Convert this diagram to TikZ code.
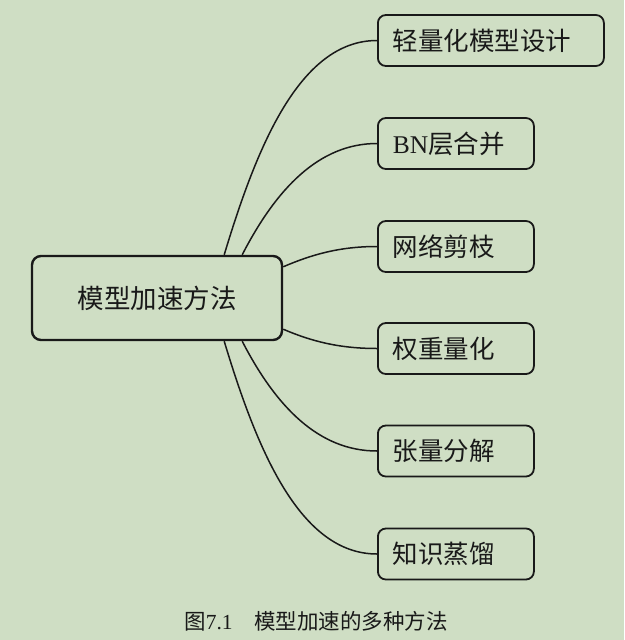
\documentclass[tikz,border=0pt]{standalone}
\usepackage{fontspec}
\setmainfont{Liberation Serif}
\newfontfamily\cjk{Noto Sans CJK SC}
\definecolor{bg}{RGB}{207,222,196}
\definecolor{ink}{RGB}{25,25,25}
\begin{document}
\begin{tikzpicture}[x=1pt,y=-1pt,
  leaf/.style={draw=ink, line width=1.8pt, rounded corners=8pt, anchor=west,
    minimum height=51pt, inner xsep=15pt, inner ysep=0pt, align=left,
    text=ink, font=\fontsize{25.5}{27}\selectfont\cjk},
  root/.style={draw=ink, line width=2.4pt, rounded corners=9pt,
    minimum width=250pt, minimum height=84pt, text=ink,
    font=\fontsize{26.5}{28}\selectfont\cjk},
  link/.style={draw=ink, line width=1.5pt}]
\fill[bg] (0,0) rectangle (624,640);
\useasboundingbox (0,0) rectangle (624,640);

\node[root] (c) at (157,298) {模型加速方法};

\node[leaf, text width=196pt] (b1) at (377,40.5) {轻量化模型设计};
\node[leaf, text width=126pt] (b2) at (377,143.5) {{\rmfamily BN}层合并};
\node[leaf, text width=126pt] (b3) at (377,246.5) {网络剪枝};
\node[leaf, text width=126pt] (b4) at (377,348.5) {权重量化};
\node[leaf, text width=126pt] (b5) at (377,451) {张量分解};
\node[leaf, text width=126pt] (b6) at (377,554) {知识蒸馏};

\draw[link] ([xshift=-59pt]c.north east) .. controls +(32,-106) and +(-78,0) .. (b1.west);
\draw[link] ([xshift=-41pt]c.north east) .. controls +(34,-66) and +(-58,0) .. (b2.west);
\draw[link] ([yshift=-12pt]c.north east) .. controls +(28,-12) and +(-38,0) .. (b3.west);
\draw[link] ([yshift=12pt]c.south east) .. controls +(28,12) and +(-38,0) .. (b4.west);
\draw[link] ([xshift=-41pt]c.south east) .. controls +(34,66) and +(-58,0) .. (b5.west);
\draw[link] ([xshift=-59pt]c.south east) .. controls +(32,106) and +(-78,0) .. (b6.west);

\node[text=ink, font=\fontsize{21.5}{23}\selectfont] (cap) at (316,621)
  {{\cjk 图}7.1\hspace{1em}{\cjk 模型加速的多种方法}};
\end{tikzpicture}
\end{document}
